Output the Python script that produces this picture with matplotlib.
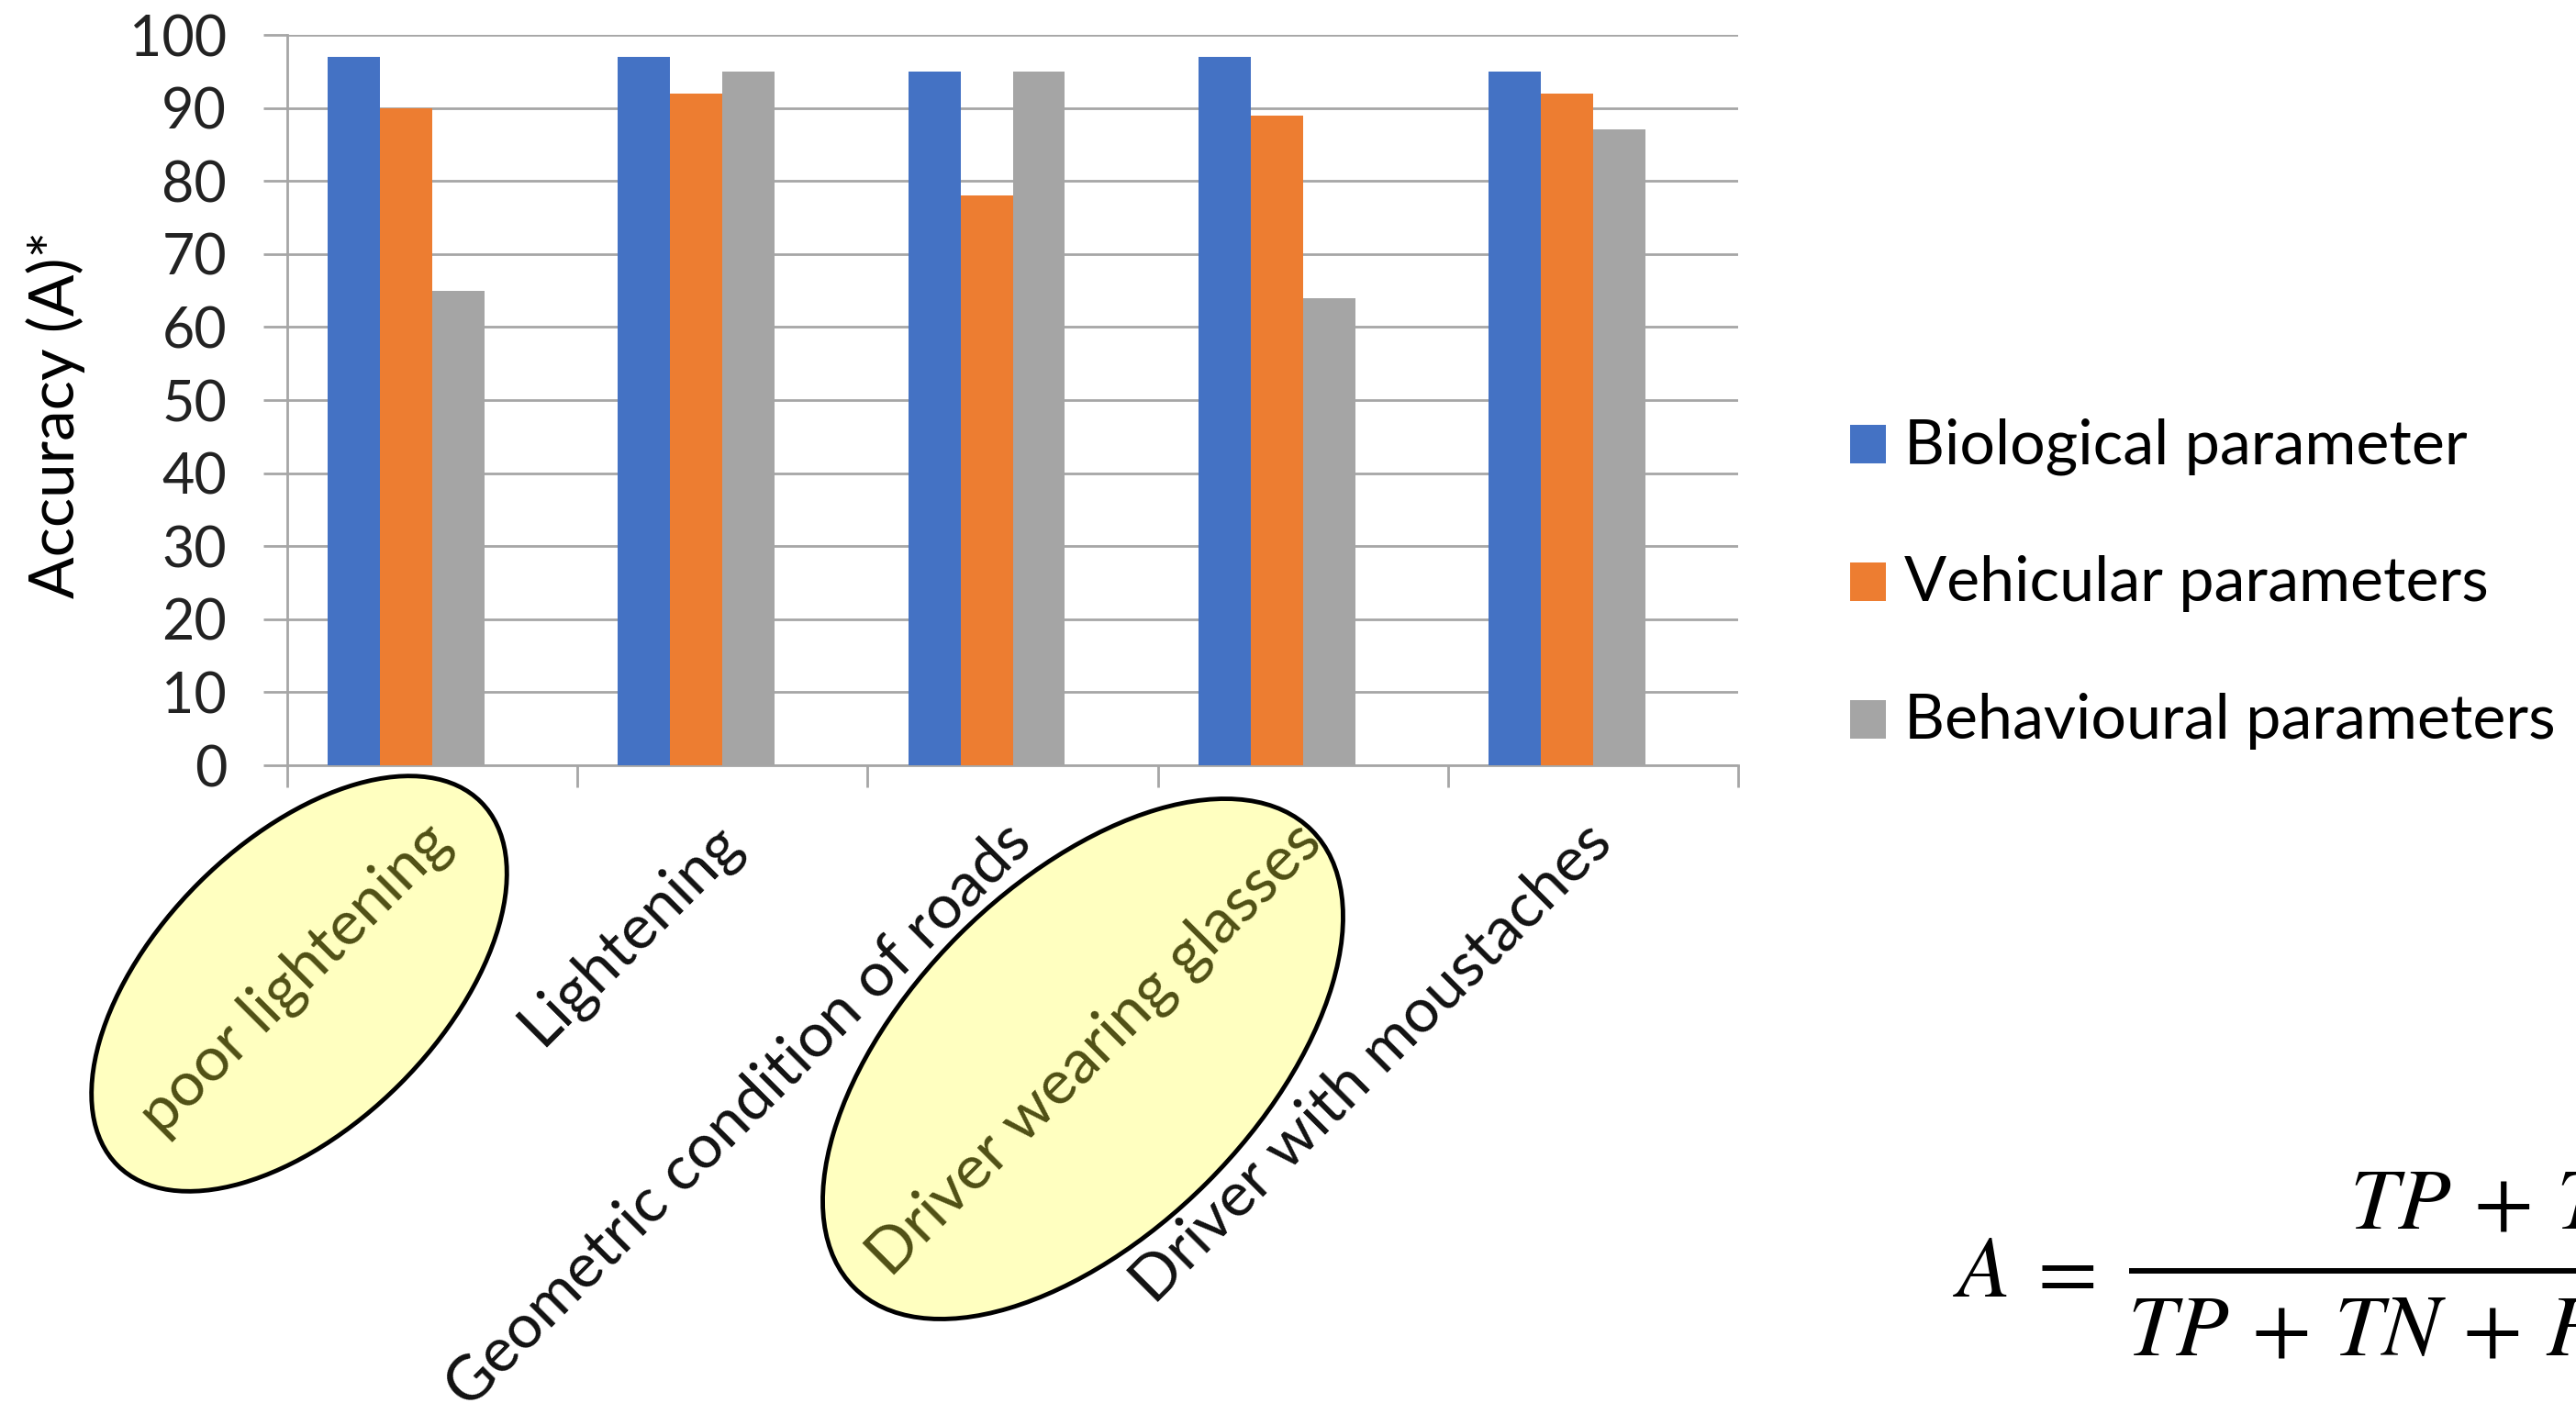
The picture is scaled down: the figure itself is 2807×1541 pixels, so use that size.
import matplotlib
matplotlib.use("Agg")
import matplotlib.pyplot as plt
import numpy as np
from matplotlib.patches import Ellipse, Rectangle
from matplotlib.transforms import offset_copy

# ---------------- data ----------------
categories = ["poor lightening", "Lightening", "Geometric condition of roads",
              "Driver wearing glasses", "Driver with moustaches"]
series_names = ["Biological parameter", "Vehicular parameters", "Behavioural parameters"]
biological = [97, 97, 95, 97, 95]
vehicular = [90, 92, 78, 89, 92]
behavioural = [65, 95, 95, 64, 87]
y_ticks = [0, 10, 20, 30, 40, 50, 60, 70, 80, 90, 100]
y_label = "Accuracy (A)*"
highlighted = ["poor lightening", "Driver wearing glasses"]
formula_lhs = r"$A$"
formula_eq = r"$=$"
formula_num = r"$TP\,+\,TN$"
formula_den = r"$TP\,+\,TN\,+\,FP\,+\,FN$"

colors = ["#4472C4", "#ED7D31", "#A5A5A5"]
grid_col = "#A6A6A6"
FONT = ["Lato", "DejaVu Sans"]

W, H = 2807, 1541
fig = plt.figure(figsize=(W / 100, H / 100), dpi=100)
renderer = fig.canvas.get_renderer()


def fit(text, target_px, family=FONT, base=40):
    t = fig.text(0, 0, text, fontsize=base, family=family)
    w = t.get_window_extent(renderer=renderer).width
    t.remove()
    return base * target_px / w


fs_tick = fit("100", 106)
fs_x = fit(categories[2], 870)
fs_leg = fit(series_names[0], 614)
fs_ylab = fit(y_label, 400)

# background overlay in pixel coordinates (y downwards)
bg = fig.add_axes([0, 0, 1, 1], zorder=0)
bg.set_xlim(0, W)
bg.set_ylim(H, 0)
bg.axis("off")

# highlight ellipses
for (cx, cy, ew, eh) in [(326, 1072, 560, 310), (1180, 1154, 705, 382)]:
    bg.add_patch(Ellipse((cx, cy), ew, eh, angle=-45, facecolor="#FFFFC0",
                         edgecolor="black", lw=3.5))

# main axes
left, right, top, bottom = 313, 1894, 38, 834
ax = fig.add_axes([left / W, 1 - bottom / H, (right - left) / W, (bottom - top) / H], zorder=1)
ax.patch.set_alpha(0)

x = np.arange(len(categories))
w = 0.18
for k, (vals, col, name) in enumerate(zip([biological, vehicular, behavioural], colors, series_names)):
    ax.bar(x + (k - 2) * w, vals, w, align="edge", color=col, label=name, zorder=3)

ax.set_xlim(-0.5, len(categories) - 0.5)
ax.set_ylim(0, 100)
ax.set_yticks(y_ticks)
ax.set_yticklabels([str(v) for v in y_ticks], fontsize=fs_tick, family=FONT, color="#222222")
ax.yaxis.grid(True, color=grid_col, lw=2.0, zorder=0)
ax.set_axisbelow(True)
for s in ["top", "right"]:
    ax.spines[s].set_visible(False)
for s in ["left", "bottom"]:
    ax.spines[s].set_color(grid_col)
    ax.spines[s].set_linewidth(2.0)
ax.tick_params(axis="y", length=18.5, width=2.0, color=grid_col, pad=29)

ax.set_xticks(x)
ax.set_xticks(np.arange(-0.5, len(categories), 1.0), minor=True)
ax.tick_params(axis="x", which="major", length=0, pad=53)
ax.tick_params(axis="x", which="minor", length=17, width=2.0, color=grid_col)
labels = ax.set_xticklabels(categories, rotation=45, ha="right", va="center",
                            rotation_mode="anchor", fontsize=fs_x, family=FONT)
for lab, cat in zip(labels, categories):
    lab.set_color("#4F4F14" if cat in highlighted else "#111111")
    lab.set_transform(offset_copy(lab.get_transform(), fig=fig, x=10, y=0, units="dots"))

ax.set_ylabel(y_label, fontsize=fs_ylab, family=FONT)
ax.yaxis.set_label_coords((93 - left) / (right - left), 0.48)

# legend (drawn manually at the right)
for i, (name, col) in enumerate(zip(series_names, colors)):
    base = 505 + i * 150
    bg.add_patch(Rectangle((2016, base - 42), 39, 42, facecolor=col, edgecolor="none"))
    bg.text(2075, base, name, fontsize=fs_leg, family=FONT, va="baseline", ha="left")

# formula (cut off at the right edge as in the reference)
fs_m = 68
mkw = dict(fontsize=fs_m, math_fontfamily="stix", va="baseline", ha="left")
bg.text(2128, 1413, formula_lhs, **mkw)
bg.text(2207, 1413, formula_eq, **mkw)
bg.text(2560, 1339, formula_num, **mkw)
bg.text(2318, 1477, formula_den, **mkw)
bg.plot([2320, 3200], [1385, 1385], color="black", lw=4.3, solid_capstyle="butt")

fig.savefig("out.png", dpi=100)
